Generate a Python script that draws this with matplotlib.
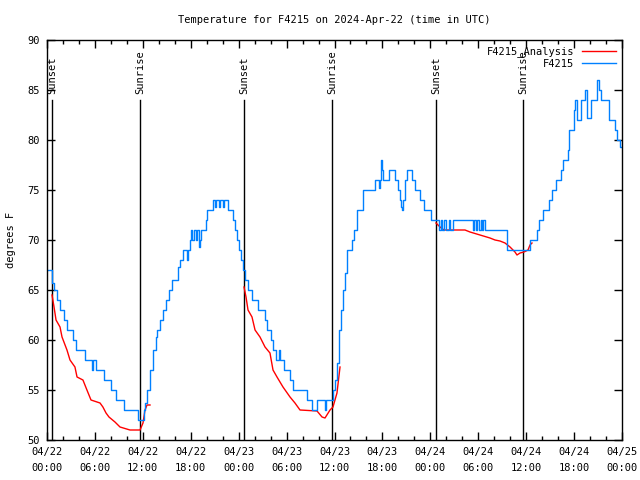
import matplotlib
matplotlib.use("Agg")
import matplotlib.pyplot as plt
import numpy as np

plt.rcParams['font.family'] = ['DejaVu Sans Mono']

# hours since 2024-04-22 00:00 UTC, temperature in F
blue_hours = [0.0, 0.65, 0.9, 1.3, 1.65, 2.1, 2.5, 3.25, 3.6, 4.75, 5.6, 5.7, 6.1, 7.15, 8.0, 8.6,
              9.6, 11.4, 12.15, 12.27, 12.52, 12.9, 13.27, 13.65, 13.77, 14.15, 14.53, 14.9, 15.28,
              15.65, 16.4, 16.65, 17.03, 17.53, 17.7, 17.91, 18.03, 18.2, 18.4, 18.6, 18.8, 19.03,
              19.15, 19.28, 19.91, 20.04, 20.79, 21.0, 21.2, 21.5, 21.7, 22.0, 22.2, 22.66, 23.29,
              23.54, 23.79, 24.04, 24.29, 24.54, 24.79, 25.17, 25.67, 26.42, 27.3, 27.55, 28.05,
              28.3, 28.68, 29.05, 29.18, 29.68, 30.43, 30.8, 32.56, 33.18, 33.81, 34.81, 34.95,
              35.81, 36.06, 36.31, 36.56, 36.81, 37.06, 37.31, 37.57, 38.2, 38.44, 38.82, 39.57,
              41.07, 41.57, 41.7, 41.82, 41.95, 42.07, 42.82, 43.58, 43.95, 44.2, 44.33, 44.45,
              44.6, 44.83, 45.08, 45.7, 46.08, 46.71, 47.21, 48.08, 49.1, 49.3, 49.5, 49.7, 50.0,
              50.3, 50.5, 50.9, 53.3, 53.45, 53.7, 53.85, 54.1, 54.3, 54.5, 54.65, 54.85, 57.6,
              60.48, 61.36, 61.61, 62.11, 62.86, 63.24, 63.74, 64.36, 64.62, 65.24, 65.4, 65.99,
              66.05, 66.12, 66.37, 66.87, 67.37, 67.62, 68.12, 68.87, 69.12, 69.37, 70.37, 71.12,
              71.37, 71.74, 72.0]
blue_temps = [67, 65.7, 65, 64, 63, 62, 61, 60, 59, 58, 57, 58, 57, 56, 55, 54,
              53, 52, 53, 53.7, 55, 57, 59, 60.3, 61, 62, 63, 64, 65,
              66, 67.3, 68, 69, 68, 69, 70, 71, 70, 71, 70, 71, 69.3,
              70, 71, 72, 73, 74, 73.3, 74, 73.3, 74, 73.3, 74, 73, 72,
              71, 70, 69, 68, 67, 66, 65, 64, 63, 62, 61, 60,
              59, 58, 59, 58, 57, 56, 55, 54, 53, 54, 53, 54,
              55, 56, 57.7, 61, 63, 65, 66.7, 69, 70, 71, 73, 75,
              76, 75.2, 76, 78, 77, 76, 77, 76, 75, 74, 73.3, 73,
              74, 76, 77, 76, 75, 74, 73, 72, 71, 72, 71, 72, 71,
              72, 71, 72, 71, 72, 71, 72, 71, 72, 71, 72, 71, 69,
              70, 71, 72, 73, 74, 75, 76, 77, 78, 79, 81, 82,
              83, 84, 82, 84, 85, 82.2, 84, 86, 85, 84, 82, 81,
              80, 79.3, 79.3]

red1_hours = [0.63, 0.88, 1.13, 1.63, 1.88, 2.5, 2.88, 3.5, 3.76, 4.5, 5.0, 5.51, 6.64, 7.0,
              7.39, 7.76, 8.51, 9.14, 10.39, 11.65, 12.02, 12.27, 12.52, 12.9]
red1_temps = [64.5, 63.3, 62, 61.3, 60.3, 59, 58, 57.3, 56.3, 56, 55, 54, 53.7, 53.3,
              52.7, 52.3, 51.8, 51.3, 51, 51, 51.7, 53, 53.5, 53.5]
red2_hours = [24.67, 24.92, 25.17, 25.67, 26.05, 26.67, 27.3, 27.92, 28.3, 28.8, 29.55, 30.43,
              31.05, 31.68, 33.81, 34.44, 34.81, 35.44, 35.81, 36.31, 36.69]
red2_temps = [65.3, 64.3, 63, 62.3, 61, 60.3, 59.3, 58.7, 57, 56.3, 55.3, 54.3,
              53.7, 53, 52.9, 52.3, 52.2, 53, 53.3, 54.7, 57.3]
red3_hours = [48.71, 49.21, 49.71, 52.34, 52.97, 54.22, 55.47, 56.1, 56.72, 57.35, 57.98,
              58.6, 58.85, 59.23, 59.73, 60.23, 60.48, 60.73]
red3_temps = [71.7, 71.3, 71, 71, 70.8, 70.5, 70.2, 70, 69.9, 69.7, 69.3,
              68.8, 68.5, 68.7, 68.8, 69, 69.5, 69.7]

event_hours = [0.63, 11.65, 24.67, 35.69, 48.71, 59.6]
event_labels = ['Sunset', 'Sunrise', 'Sunset', 'Sunrise', 'Sunset', 'Sunrise']

fig = plt.figure(figsize=(6.4, 4.8), dpi=100)
ax = fig.add_axes([47/640, 40/480, 575/640, 400/480])

for h, lab in zip(event_hours, event_labels):
    ax.plot([h, h], [50, 84], color='black', lw=1.0)
    ax.text(h, 84.6, lab, rotation=90, ha='center', va='bottom', fontsize=7.5)

ax.plot(red1_hours, red1_temps, color='#ff0000', lw=1.0, label='F4215_Analysis')
ax.plot(red2_hours, red2_temps, color='#ff0000', lw=1.0)
ax.plot(red3_hours, red3_temps, color='#ff0000', lw=1.0)
ax.plot(blue_hours, blue_temps, color='#0080ff', lw=1.0, drawstyle='steps-post', label='F4215')

ax.set_xlim(0, 72)
ax.set_ylim(50, 90)
xt = np.arange(0, 73, 6)
ax.set_xticks(xt)
ax.set_xticklabels(['04/%02d\n%02d:00' % (22 + int(h) // 24, int(h) % 24) for h in xt],
                   fontsize=7.5, linespacing=1.7)
ax.set_xticks(np.arange(0, 73, 2), minor=True)
ax.set_yticks(np.arange(50, 91, 5))
ax.set_yticklabels([str(v) for v in range(50, 91, 5)], fontsize=7.5)
ax.tick_params(which='both', direction='in', top=True, right=True, width=1.0)
ax.tick_params(which='major', length=6, pad=5)
ax.tick_params(which='minor', length=3)
for s in ax.spines.values():
    s.set_linewidth(1.0)

ax.set_ylabel('degrees F', fontsize=7.5, labelpad=8)
ax.set_title('Temperature for F4215 on 2024-Apr-22 (time in UTC)', fontsize=7.5, pad=12)

leg = ax.legend(loc='upper right', frameon=False, fontsize=7.5, markerfirst=False,
                handlelength=3.2, borderaxespad=0.2, labelspacing=0.15)
for t in leg.get_texts():
    t.set_ha('right')

fig.savefig('out.png', dpi=100)
